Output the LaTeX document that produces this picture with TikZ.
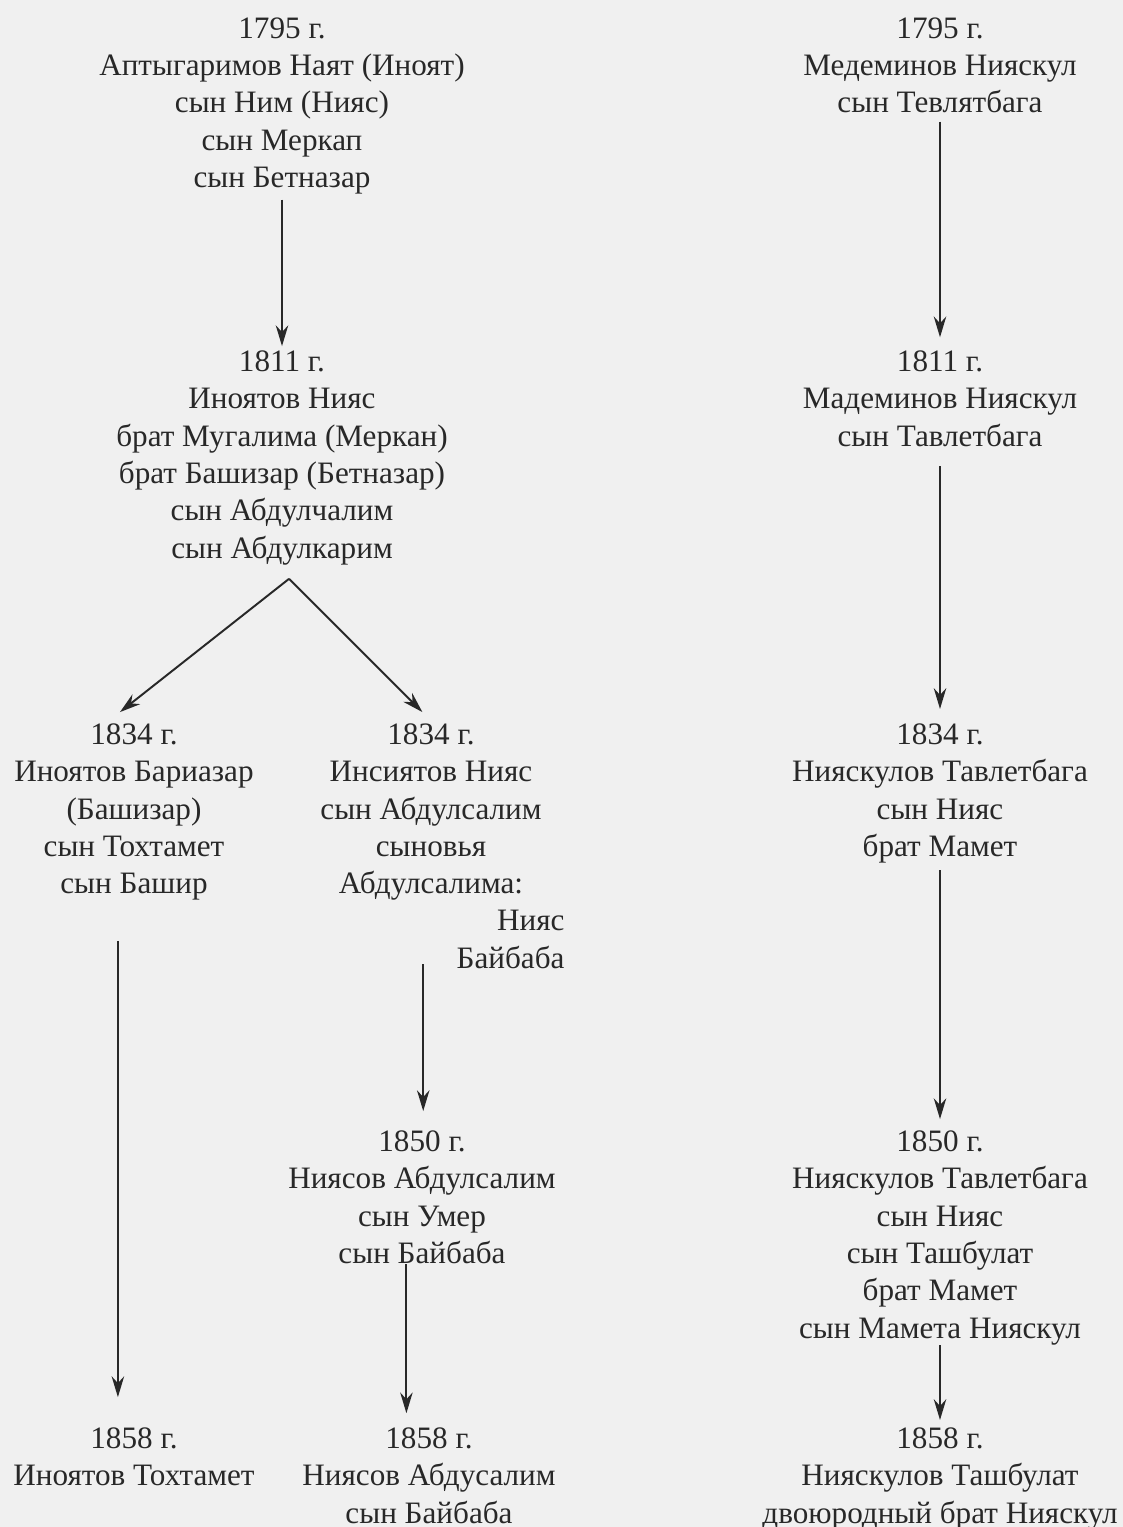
\documentclass[tikz,border=0pt]{standalone}
\usepackage{fontspec}
\setmainfont{Liberation Serif}
\usetikzlibrary{arrows.meta, positioning}
\definecolor{paper}{RGB}{240,240,240}
\definecolor{ink}{RGB}{40,40,40}

\begin{document}
\begin{tikzpicture}[
        x=0.385pt, y=-0.385pt,
        every node/.style={align=center, inner sep=0pt, anchor=north, text=ink,
            font=\fontsize{12}{14.4}\selectfont,
            execute at begin node=\strut, execute at end node=\strut},
        arrow/.style={-{Stealth[length=8pt, width=4.8pt, inset=2.6pt]}, draw=ink, line width=0.75pt}
    ]

    \fill[paper] (0,0) rectangle (1123,1527);
    \useasboundingbox (0,0) rectangle (1123,1527);

    % Left branch
    \node (A) at (282,17) {1795 г.\\Аптыгаримов Наят (Иноят)\\сын Ним (Нияс)\\сын Меркап\\сын Бетназар};
    \node (B) at (282,350) {1811 г.\\Иноятов Нияс\\брат Мугалима (Меркан)\\брат Башизар (Бетназар)\\сын Абдулчалим\\сын Абдулкарим};
    \node (C) at (134,723) {1834 г.\\Иноятов Бариазар\\(Башизар)\\сын Тохтамет\\сын Башир};
    \node (D) at (431,723) {1834 г.\\Инсиятов Нияс\\сын Абдулсалим\\сыновья\\Абдулсалима:};
    \node[anchor=north east, align=right] (Dsons) at (565,910) {Нияс\\Байбаба};
    \node (E) at (422,1130) {1850 г.\\Ниясов Абдулсалим\\сын Умер\\сын Байбаба};
    \node (C2) at (134,1427) {1858 г.\\Иноятов Тохтамет};
    \node (F) at (429,1427) {1858 г.\\Ниясов Абдусалим\\сын Байбаба};

    % Right branch
    \node (R1) at (940,17) {1795 г.\\Медеминов Нияскул\\сын Тевлятбага};
    \node (R2) at (940,350) {1811 г.\\Мадеминов Нияскул\\сын Тавлетбага};
    \node (R3) at (940,723) {1834 г.\\Нияскулов Тавлетбага\\сын Нияс\\брат Мамет};
    \node (R4) at (940,1130) {1850 г.\\Нияскулов Тавлетбага\\сын Нияс\\сын Ташбулат\\брат Мамет\\сын Мамета Нияскул};
    \node (R5) at (940,1427) {1858 г.\\Нияскулов Ташбулат\\двоюродный брат Нияскул};

    % Arrows, left branch
    \draw[arrow] (A.south) -- ([yshift=1.5pt]B.north);
    \coordinate (fork) at ([xshift=2.7pt, yshift=-3.4pt]B.south);
    \draw[arrow] (fork) -- ([xshift=-5.4pt, yshift=4.2pt]C.north);
    \draw[arrow] (fork) -- ([xshift=-3.3pt, yshift=4.2pt]D.north);
    \draw[arrow] ([xshift=-6.2pt, yshift=-13.6pt]C.south) -- ([xshift=-6.2pt, yshift=11.5pt]C.south |- C2.north);
    \draw[arrow] ([xshift=-3pt, yshift=-22.5pt]D.south) -- ([xshift=-3pt, yshift=7.3pt]D.south |- E.north);
    \draw[arrow] ([xshift=-6pt, yshift=4.2pt]E.south) -- ([xshift=-6pt, yshift=5.3pt]E.south |- F.north);

    % Arrows, right branch
    \draw[arrow] ([yshift=1.2pt]R1.south) -- ([yshift=4.9pt]R2.north);
    \draw[arrow] ([yshift=-3.2pt]R2.south) -- ([yshift=5.4pt]R3.north);
    \draw[arrow] ([yshift=-0.8pt]R3.south) -- ([yshift=4.2pt]R4.north);
    \draw[arrow] ([yshift=1.9pt]R4.south) -- ([yshift=2.7pt]R5.north);

\end{tikzpicture}
\end{document}
